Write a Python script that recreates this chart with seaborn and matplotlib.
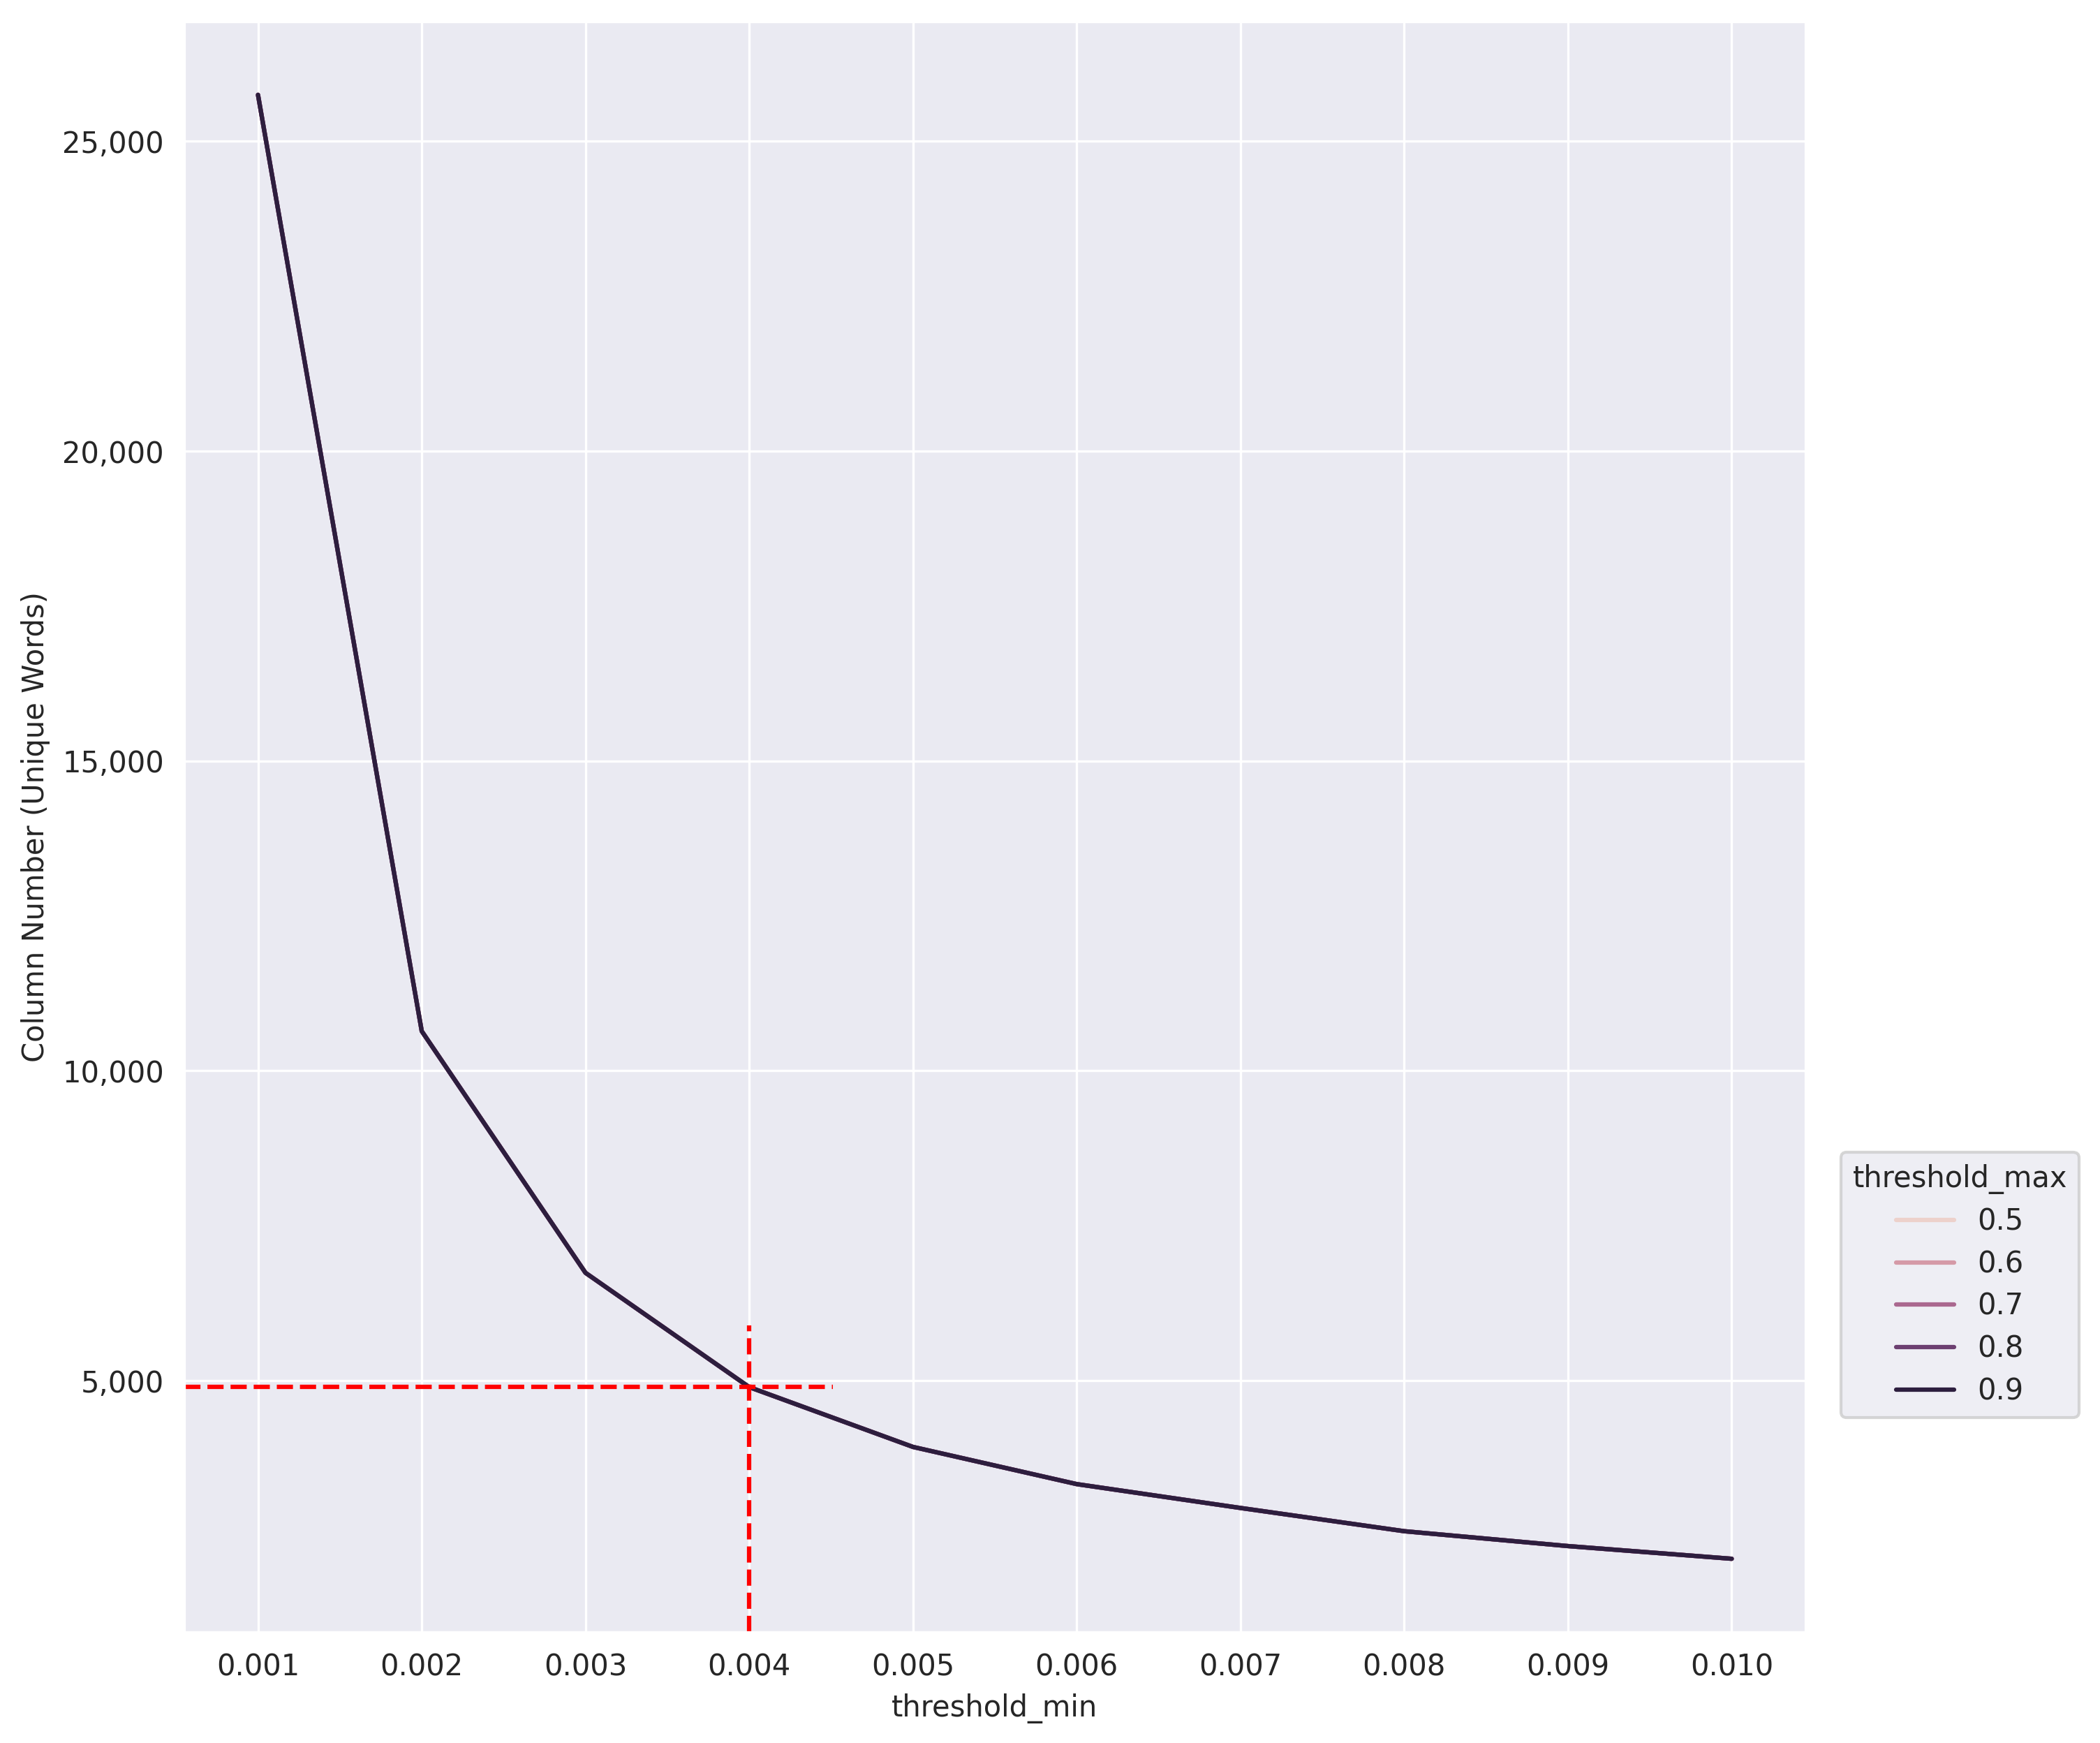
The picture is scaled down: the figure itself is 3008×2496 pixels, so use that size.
import numpy as np
import pandas as pd
import matplotlib
matplotlib.use("Agg")
import matplotlib.pyplot as plt
import seaborn as sns
from matplotlib.ticker import StrMethodFormatter

# -----------------------------
# Data
# -----------------------------
threshold_min = [0.001, 0.002, 0.003, 0.004, 0.005, 0.006, 0.007, 0.008, 0.009, 0.010]
threshold_max = [0.5, 0.6, 0.7, 0.8, 0.9]
# the column count does not change with threshold_max, so all lines overlap
column_number = [25750, 10640, 6740, 4895, 3930, 3330, 2945, 2570, 2330, 2125]

chosen_min = 0.004
chosen_cols = 4895

rows = []
for tmax in threshold_max:
    for tmin, n in zip(threshold_min, column_number):
        rows.append({"threshold_min": tmin, "threshold_max": tmax, "column_number": n})
df = pd.DataFrame(rows)

# -----------------------------
# Plot
# -----------------------------
sns.set_style("darkgrid")

fig, ax = plt.subplots(figsize=(3008 / 300, 2496 / 300), dpi=300)
fig.subplots_adjust(left=264 / 3008, right=2586 / 3008, bottom=1 - 2337 / 2496, top=1 - 31 / 2496)

sns.lineplot(data=df, x="threshold_min", y="column_number", hue="threshold_max", ax=ax)

# reference lines marking the chosen threshold
xlo, xhi = ax.get_xlim()
ylo, yhi = ax.get_ylim()
ax.hlines(chosen_cols, xlo, 0.00451, colors="red", linestyles="--", linewidth=1.5)
ax.vlines(chosen_min, ylo, chosen_cols + 1000, colors="red", linestyles="--", linewidth=1.5)
ax.set_xlim(xlo, xhi)
ax.set_ylim(ylo, yhi)

ax.set_xticks(threshold_min)
ax.xaxis.set_major_formatter(StrMethodFormatter("{x:.3f}"))
ax.yaxis.set_major_formatter(StrMethodFormatter("{x:,.0f}"))
ax.set_xlabel("threshold_min")
ax.set_ylabel("Column Number (Unique Words)")

ax.legend(title="threshold_max", loc="upper left",
          bbox_to_anchor=(2637 / 3008, 1 - 1650 / 2496),
          bbox_transform=fig.transFigure, borderaxespad=0, labelspacing=0.45)

fig.savefig("out.png", dpi=300)
